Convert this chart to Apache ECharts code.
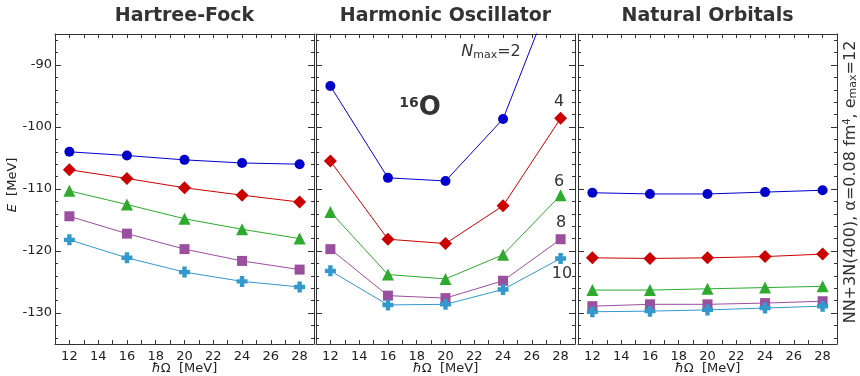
<!DOCTYPE html>
<html>
<head>
<meta charset="utf-8">
<script src="https://cdn.jsdelivr.net/npm/echarts@6/dist/echarts.min.js"></script>
<style>
  html, body { margin: 0; padding: 0; background: #fff; }
  #chart { width: 860px; height: 376px; }
</style>
</head>
<body>
<div id="chart"></div>
<script>
// Oscillator frequency grid (MeV)
const hbarOmega = [12, 16, 20, 24, 28];

// Ground-state energies of 16O (MeV) per Nmax, three single-particle bases
const hfN2  = [-104.0, -104.6, -105.3, -105.8, -106.0];
const hfN4  = [-106.9, -108.3, -109.8, -111.0, -112.1];
const hfN6  = [-110.3, -112.5, -114.8, -116.5, -118.0];
const hfN8  = [-114.4, -117.2, -119.7, -121.6, -123.0];
const hfN10 = [-118.2, -121.1, -123.4, -124.9, -125.8];

const hoN2  = [-93.4, -108.2, -108.7, -98.7, -75.0];
const hoN4  = [-105.5, -118.1, -118.8, -112.7, -98.6];
const hoN6  = [-113.7, -123.8, -124.5, -120.6, -111.0];
const hoN8  = [-119.7, -127.2, -127.6, -124.8, -118.1];
const hoN10 = [-123.2, -128.7, -128.6, -126.2, -121.2];

const noN2  = [-110.6, -110.8, -110.8, -110.5, -110.2];
const noN4  = [-121.1, -121.2, -121.1, -120.9, -120.5];
const noN6  = [-126.3, -126.3, -126.1, -125.9, -125.7];
const noN8  = [-128.9, -128.6, -128.6, -128.4, -128.1];
const noN10 = [-129.8, -129.7, -129.5, -129.2, -128.9];

const panelTitles = ['Hartree-Fock', 'Harmonic Oscillator', 'Natural Orbitals'];
const nmaxLabels = ['N_max=2', '4', '6', '8', '10'];

// Axis ranges and tick positions
const xMin = 11, xMax = 29;
const yMin = -135, yMax = -85;
const xTickValues = [12, 13, 14, 15, 16, 17, 18, 19, 20, 21, 22, 23, 24, 25, 26, 27, 28];
const xLabelValues = [12, 14, 16, 18, 20, 22, 24, 26, 28];
const yMajorValues = [-130, -120, -110, -100, -90];
const yMinorValues = [-134, -132, -128, -126, -124, -122, -118, -116, -114, -112,
                      -108, -106, -104, -102, -98, -96, -94, -92, -88, -86];

const FONT = '"DejaVu Sans", Verdana, sans-serif';
const INK = '#333';

const crossPath = 'path://M3,0H7V3H10V7H7V10H3V7H0V3H3Z';
const styles = [
  { color: '#0000cc', symbol: 'circle',  size: 10 },
  { color: '#cc0000', symbol: 'diamond', size: 13 },
  { color: '#2eaa2e', symbol: 'triangle', size: 12 },
  { color: '#9b4f9f', symbol: 'rect',    size: 10 },
  { color: '#3399cc', symbol: crossPath, size: 11 }
];

const panelData = [
  [hfN2, hfN4, hfN6, hfN8, hfN10],
  [hoN2, hoN4, hoN6, hoN8, hoN10],
  [noN2, noN4, noN6, noN8, noN10]
];

const gridLefts = [55, 316, 578];
const gridWidth = 259;
const gridTop = 34;
const gridHeight = 310;

const grids = [], xAxes = [], yAxes = [], series = [];

gridLefts.forEach(function (left, p) {
  grids.push({ left: left, top: gridTop, width: gridWidth, height: gridHeight, containLabel: false });

  ['bottom', 'top'].forEach(function (pos) {
    xAxes.push({
      gridIndex: p, type: 'value', position: pos, min: xMin, max: xMax,
      axisLine: { show: true, onZero: false, lineStyle: { color: INK, width: 1 } },
      axisTick: { show: true, inside: true, length: 4, customValues: xTickValues, lineStyle: { color: INK } },
      axisLabel: {
        show: pos === 'bottom', customValues: xLabelValues, margin: 6,
        fontSize: 13, fontFamily: FONT, color: '#222'
      },
      splitLine: { show: false }
    });
  });

  ['left', 'right'].forEach(function (pos) {
    // major ticks (carry the labels on the leftmost panel)
    yAxes.push({
      gridIndex: p, type: 'value', position: pos, min: yMin, max: yMax,
      axisLine: { show: true, onZero: false, lineStyle: { color: INK, width: 1 } },
      axisTick: { show: true, inside: true, length: 6, customValues: yMajorValues, lineStyle: { color: INK } },
      axisLabel: {
        show: p === 0 && pos === 'left', customValues: yMajorValues, margin: 3,
        fontSize: 13, fontFamily: FONT, color: '#222'
      },
      splitLine: { show: false }
    });
    // minor ticks
    yAxes.push({
      gridIndex: p, type: 'value', position: pos, min: yMin, max: yMax,
      axisLine: { show: false },
      axisTick: { show: true, inside: true, length: 3, customValues: yMinorValues, lineStyle: { color: INK } },
      axisLabel: { show: false },
      splitLine: { show: false }
    });
  });

  panelData[p].forEach(function (vals, k) {
    const st = styles[k];
    series.push({
      type: 'line',
      xAxisIndex: p * 2,
      yAxisIndex: p * 4,
      data: hbarOmega.map(function (h, i) { return [h, vals[i]]; }),
      symbol: st.symbol,
      symbolSize: st.size,
      showAllSymbol: true,
      clip: true,
      z: 2 + k,
      lineStyle: { color: st.color, width: 1 },
      itemStyle: { color: st.color, borderWidth: 0 },
      emphasis: { disabled: true },
      animation: false
    });
  });
});

const graphics = [];

// Panel titles and x-axis names
gridLefts.forEach(function (left, p) {
  const cx = left + gridWidth / 2;
  graphics.push({
    type: 'text', x: cx, y: 16,
    style: { text: panelTitles[p], font: 'bold 19px ' + FONT, fill: INK, align: 'center', verticalAlign: 'middle' }
  });
  graphics.push({
    type: 'text', x: cx, y: 369,
    style: {
      text: '{i|ħ}Ω  [MeV]', align: 'center', verticalAlign: 'middle',
      font: '13px ' + FONT, fill: '#222',
      rich: { i: { fontStyle: 'italic', fontSize: 13, fontFamily: FONT, fill: '#222' } }
    }
  });
});

// Y-axis name
graphics.push({
  type: 'text', x: 13, y: 185, rotation: Math.PI / 2,
  style: {
    text: '{i|E}  [MeV]', align: 'center', verticalAlign: 'middle',
    font: '13px ' + FONT, fill: '#222',
    rich: { i: { fontStyle: 'italic', fontSize: 13, fontFamily: FONT, fill: '#222' } }
  }
});

// Interaction / basis specification along the right edge
graphics.push({
  type: 'text', x: 851, y: 182, rotation: Math.PI / 2,
  style: {
    text: 'NN+3N(400), α=0.08 fm{sup|4}, e{sub|max}=12', align: 'center', verticalAlign: 'middle',
    font: '16px ' + FONT, fill: INK,
    rich: {
      sup: { fontSize: 10, fontFamily: FONT, fill: INK, padding: [0, 0, 7, 0] },
      sub: { fontSize: 11, fontFamily: FONT, fill: INK, padding: [5, 0, 0, 0] }
    }
  }
});

// Nucleus label
graphics.push({
  type: 'text', x: 420, y: 108,
  style: {
    text: '{sup|16}{o|O}', align: 'center', verticalAlign: 'middle',
    font: 'bold 25px ' + FONT, fill: INK,
    rich: {
      sup: { fontSize: 14, fontWeight: 'bold', fontFamily: FONT, fill: INK, padding: [0, 0, 10, 0] },
      o: { fontSize: 26, fontWeight: 'bold', fontFamily: FONT, fill: INK }
    }
  }
});

// Nmax labels next to the harmonic-oscillator curves
graphics.push({
  type: 'text', x: 491, y: 52,
  style: {
    text: '{i|N}{s|max}=2', align: 'center', verticalAlign: 'middle',
    font: '16px ' + FONT, fill: INK,
    rich: {
      i: { fontStyle: 'italic', fontSize: 16, fontFamily: FONT, fill: INK },
      s: { fontSize: 11, fontFamily: FONT, fill: INK, padding: [6, 0, 0, 0] }
    }
  }
});
const nmaxPos = [[559, 102], [559, 182], [561, 223], [562, 274]];
nmaxLabels.slice(1).forEach(function (t, i) {
  graphics.push({
    type: 'text', x: nmaxPos[i][0], y: nmaxPos[i][1],
    style: { text: t, font: '16px ' + FONT, fill: INK, align: 'center', verticalAlign: 'middle' }
  });
});

const chart = echarts.init(document.getElementById('chart'), null, { renderer: 'canvas' });
chart.setOption({
  backgroundColor: '#fff',
  animation: false,
  grid: grids,
  xAxis: xAxes,
  yAxis: yAxes,
  series: series,
  graphic: graphics
});
</script>
</body>
</html>
